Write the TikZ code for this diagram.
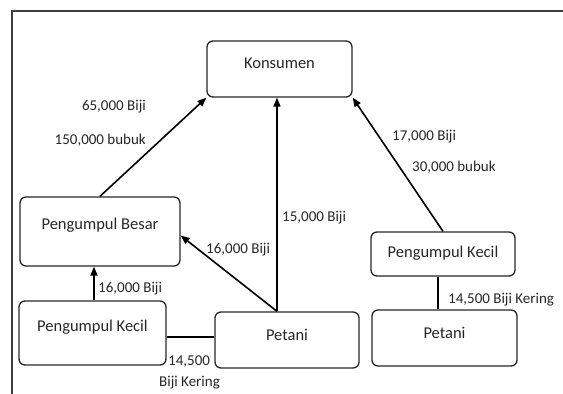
\documentclass[tikz,border=0pt]{standalone}
\usepackage{fontspec}
\setmainfont{Carlito}
\usetikzlibrary{arrows.meta}
\newcommand{\bt}[2]{\raisebox{#1}[0pt][0pt]{#2}}
\tikzset{
  box/.style={draw=black!85, line width=1.3pt, rounded corners=6pt, inner sep=0pt,
    font=\fontsize{16.5}{19}\selectfont, text=black!85},
  lab/.style={inner sep=0pt, font=\fontsize{15}{18}\selectfont, text=black!85},
  arr/.style={line width=1.6pt, -{Triangle[length=9pt,width=7pt]}},
  conn/.style={line width=1.6pt},
}
\begin{document}
\begin{tikzpicture}[x=1pt,y=-1pt]
\useasboundingbox (0,0) rectangle (563,394);
% frame
\draw[black!75, line width=1.5pt] (12,394) -- (12,11) -- (563,11);
% boxes
\node[box, minimum width=145pt, minimum height=56pt] (kons) at (279.5,69) {\bt{1pt}{Konsumen}};
\node[box, minimum width=160pt, minimum height=69pt] (pb) at (100,231.5) {\bt{2.5pt}{Pengumpul Besar}};
\node[box, minimum width=147pt, minimum height=64pt] (pkl) at (92.5,333) {\bt{2pt}{Pengumpul Kecil}};
\node[box, minimum width=144pt, minimum height=56pt] (pm) at (287,340) {\bt{0pt}{Petani}};
\node[box, minimum width=144pt, minimum height=44pt] (pkr) at (443,254) {\bt{-3pt}{Pengumpul Kecil}};
\node[box, minimum width=145pt, minimum height=56pt] (pr) at (444.5,338) {\bt{0pt}{Petani}};
% connectors
\draw[arr] (pb.north) -- (kons.south west);
\draw[arr] ([xshift=-10pt]pm.north) -- ([xshift=-10pt]pm.north |- kons.south);
\draw[arr] ([xshift=-10pt]pm.north) -- ([yshift=-4pt]pb.east);
\draw[arr] (pkr.north) -- (kons.south east);
\draw[arr] ([xshift=1.5pt]pkl.north) -- ([xshift=1.5pt]pkl.north |- pb.south);
\draw[conn] ([yshift=-4pt]pkl.east) -- ([yshift=-4pt]pkl.east -| pm.west);
\draw[conn] ([xshift=-5pt]pkr.south) -- ([xshift=-5pt]pkr.south |- pr.north);
% labels
\node[lab, anchor=base east] (l1) at (146,110) {65,000 Biji};
\node[lab, anchor=base east] (l2) at (146,144) {150,000 bubuk};
\node[lab, anchor=base west] (l3) at (392,140) {17,000 Biji};
\node[lab, anchor=base west] (l4) at (412,171) {30,000 bubuk};
\node[lab, anchor=base west] (l5) at (282,221) {15,000 Biji};
\node[lab, anchor=base west] (l6) at (206,253) {16,000 Biji};
\node[lab, anchor=base west] (l7) at (98,292) {16,000 Biji};
\node[lab, anchor=base west] (l8) at (168,365) {14,500};
\node[lab, anchor=base west] (l9) at (159,386) {Biji Kering};
\node[lab, anchor=base west] (l10) at (448,303) {14,500 Biji Kering};
\end{tikzpicture}
\end{document}
